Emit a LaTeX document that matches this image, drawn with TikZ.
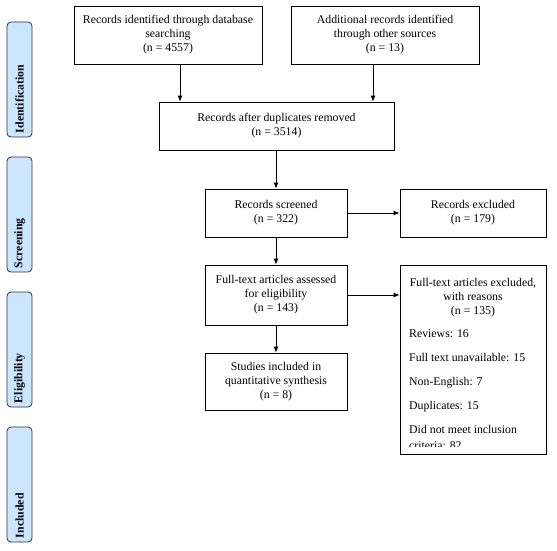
\documentclass[tikz,border=0pt]{standalone}
\usepackage{fontspec}
\setmainfont{Liberation Serif}
\usetikzlibrary{arrows.meta}
\definecolor{phaseblue}{HTML}{CCE6FF}
\begin{document}
\begin{tikzpicture}[>={Latex[length=6pt,width=5pt]}, x=1pt, y=-1pt,
  font=\fontsize{11.8}{14}\selectfont,
  box/.style={draw, line width=0.8pt, align=center, inner sep=2pt},
  phase/.style={draw=black!80, line width=0.8pt, rounded corners=4pt, fill=phaseblue,
    rotate=90, minimum height=25pt, text width=107pt, inner sep=4pt, align=left,
    font=\fontsize{11.8}{14}\selectfont\bfseries}]
\useasboundingbox (0,0) rectangle (557,551);
% phases
\node[phase] (idph) at (19.5,79.5) {Identification};
\node[phase] (scph) at (19.5,214.5) {Screening};
\node[phase] (elph) at (19.5,349.5) {Eligibility};
\node[phase] (inph) at (19.5,484.5) {Included};
% boxes
\node[box, minimum width=188, minimum height=58] (ident) at (168,35) {Records identified through database\\searching\\(n = 4557)};
\node[box, minimum width=188, minimum height=58] (other) at (385,35) {Additional records identified\\through other sources\\(n = 13)};
\node[box, minimum width=235, minimum height=48] (dup) at (276.5,126) {Records after duplicates removed\\(n = 3514)};
\node[box, minimum width=142, minimum height=48] (screen) at (276,213) {Records screened\\(n = 322)};
\node[box, minimum width=146, minimum height=48] (excl) at (473,213) {Records excluded\\(n = 179)};
\node[box, minimum width=142, minimum height=60] (full) at (276,295) {Full-text articles assessed\\for eligibility\\(n = 143)};
\node[box, minimum width=142, minimum height=57] (incl) at (276,381.5) {Studies included in\\quantitative synthesis\\(n = 8)};
\node[box, minimum width=146, minimum height=189] (why) at (473,359.5) {};
\node[align=center] (whyhead) at (473,298) {Full-text articles excluded,\\with reasons\\(n = 135)};
\begin{scope}
\clip (why.north west) rectangle ([yshift=7.5pt]why.south east);
\node[align=left, anchor=north west, inner sep=0pt] (reasons) at (409,329) {Reviews: 16\\[10pt]Full text unavailable: 15\\[10pt]Non-English: 7\\[10pt]Duplicates: 15\\[10pt]Did not meet inclusion\\[2.5pt]criteria: 82};
\end{scope}
% arrows
\draw[->, line width=0.8pt] ([xshift=12pt]ident.south) -- ([xshift=12pt]ident.south |- dup.north);
\draw[->, line width=0.8pt] ([xshift=-12pt]other.south) -- ([xshift=-12pt]other.south |- dup.north);
\draw[->, line width=0.8pt] (dup.south -| screen.north) -- (screen.north);
\draw[->, line width=0.8pt] (screen.east) -- (excl.west);
\draw[->, line width=0.8pt] (screen.south) -- (full.north);
\draw[->, line width=0.8pt] (full.east) -- (full.east -| why.west);
\draw[->, line width=0.8pt] (full.south) -- (incl.north);
\end{tikzpicture}
\end{document}
